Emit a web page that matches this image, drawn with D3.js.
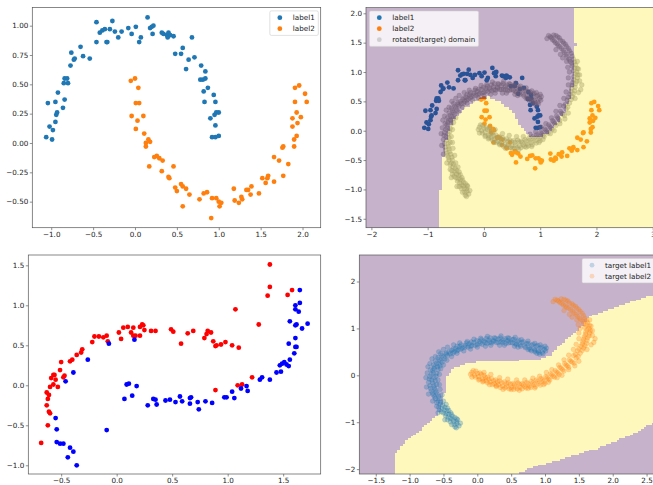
<!DOCTYPE html>
<html>
<head>
<meta charset="utf-8">
<script src="https://cdn.jsdelivr.net/npm/d3@7"></script>
<style>
  html, body { margin: 0; padding: 0; background: #fff; }
  svg { display: block; font-family: "DejaVu Sans", sans-serif; }
</style>
</head>
<body>
<div id="app"></div>
<script>
// source domain (two moons)
const sourceLabel1 = [
  [-1.06,0.05],[-0.99,0.03],[-1.02,0.14],[-0.98,0.11],[-1.04,0.34],[-0.95,0.35],[-0.95,0.18],[-0.94,0.24],
  [-0.93,0.26],[-0.92,0.43],[-0.86,0.30],[-0.84,0.37],[-0.85,0.51],[-0.84,0.55],[-0.81,0.55],[-0.80,0.51],
  [-0.77,0.66],[-0.76,0.77],[-0.73,0.71],[-0.72,0.72],[-0.65,0.82],[-0.62,0.74],[-0.54,0.72],[-0.46,1.03],
  [-0.46,0.86],[-0.42,0.94],[-0.39,0.96],[-0.36,0.97],[-0.34,0.86],[-0.33,0.86],[-0.30,0.97],[-0.27,1.04],
  [-0.24,0.95],[-0.20,0.90],[-0.16,0.95],[-0.08,0.98],[-0.04,0.93],[0.01,0.99],[0.05,0.86],[0.07,0.90],
  [0.15,1.07],[0.18,0.98],[0.20,0.99],[0.22,1.00],[0.21,0.93],[0.32,0.94],[0.34,0.93],[0.38,0.92],
  [0.39,0.90],[0.40,0.94],[0.42,0.92],[0.46,0.91],[0.48,0.76],[0.55,0.76],[0.57,0.81],[0.61,0.63],
  [0.64,0.71],[0.68,0.90],[0.71,0.73],[0.79,0.66],[0.78,0.54],[0.81,0.54],[0.84,0.61],[0.84,0.55],
  [0.82,0.44],[0.83,0.35],[0.87,0.47],[0.94,0.41],[0.96,0.35],[0.95,0.24],[0.97,0.26],[1.00,0.26],
  [0.90,0.21],[0.96,0.15],[0.92,0.05],[0.96,0.05],[1.00,0.06]
];
const sourceLabel2 = [
  [-0.05,0.53],[0.00,0.55],[0.04,0.47],[0.01,0.34],[0.05,0.34],[-0.04,0.23],[0.03,0.19],[0.10,0.23],
  [0.01,0.12],[0.11,0.08],[0.13,0.00],[0.16,0.03],[0.18,0.01],[0.13,-0.03],[0.17,-0.20],[0.23,-0.12],
  [0.26,-0.11],[0.29,-0.13],[0.33,-0.15],[0.32,-0.24],[0.40,-0.29],[0.41,-0.30],[0.46,-0.20],[0.48,-0.38],
  [0.50,-0.41],[0.55,-0.35],[0.57,-0.37],[0.61,-0.39],[0.57,-0.54],[0.65,-0.44],[0.77,-0.48],[0.82,-0.43],
  [0.86,-0.42],[0.92,-0.47],[0.91,-0.64],[0.97,-0.47],[1.00,-0.50],[1.01,-0.54],[1.03,-0.51],[1.18,-0.39],
  [1.19,-0.49],[1.24,-0.51],[1.27,-0.46],[1.28,-0.48],[1.33,-0.40],[1.35,-0.40],[1.39,-0.37],[1.38,-0.44],
  [1.48,-0.43],[1.52,-0.30],[1.56,-0.34],[1.58,-0.30],[1.59,-0.28],[1.66,-0.33],[1.66,-0.12],[1.72,-0.15],
  [1.77,-0.28],[1.76,-0.04],[1.77,-0.03],[1.83,-0.18],[1.88,0.21],[1.88,0.14],[1.90,0.03],[1.90,-0.03],
  [1.93,0.06],[1.91,0.47],[1.96,0.49],[1.91,0.35],[1.93,0.26],[1.94,0.17],[1.98,0.22],[2.03,0.42],[2.05,0.35]
];

// rotated (target) domain
const targetLabel1 = [
  [-0.27,-1.08],[-0.30,-1.03],[-0.33,-1.10],[-0.35,-0.98],[-0.29,-0.95],[-0.38,-1.05],[-0.40,-0.92],[-0.36,-0.88],
  [-0.44,-0.95],[-0.42,-0.83],[-0.47,-0.86],[-0.45,-0.76],[-0.50,-0.80],[-0.52,-0.70],[-0.48,-0.68],[-0.56,-0.74],
  [-0.55,-0.62],[-0.60,-0.66],[-0.58,-0.55],[-0.62,-0.50],[-0.57,-0.45],[-0.65,-0.42],[-0.61,-0.36],[-0.68,-0.33],
  [-0.63,-0.27],[-0.70,-0.22],[-0.66,-0.16],[-0.60,-0.20],[-0.71,-0.08],[-0.64,-0.05],[-0.68,0.02],[-0.60,0.04],
  [-0.66,0.10],[-0.58,0.12],[-0.63,0.18],[-0.55,0.20],[-0.60,0.26],[-0.52,0.28],[-0.56,0.34],[-0.48,0.35],
  [-0.52,0.42],[-0.44,0.42],[-0.46,0.48],[-0.40,0.46],[-0.38,0.53],[-0.34,0.50],[-0.32,0.57],[-0.28,0.54],
  [-0.26,0.61],[-0.22,0.58],[-0.18,0.64],[-0.14,0.60],[-0.12,0.67],[-0.08,0.63],[-0.05,0.70],[0.00,0.65],
  [0.03,0.72],[0.07,0.66],[0.10,0.73],[0.14,0.68],[0.17,0.75],[0.21,0.69],[0.24,0.74],[0.28,0.70],
  [0.31,0.77],[0.35,0.71],[0.38,0.75],[0.42,0.68],[0.45,0.74],[0.49,0.70],[0.52,0.76],[0.56,0.67],
  [0.59,0.72],[0.63,0.65],[0.66,0.70],[0.70,0.62],[0.73,0.67],[0.77,0.58],[0.80,0.64],[0.84,0.56],
  [0.87,0.62],[0.90,0.52],[0.93,0.58],[0.96,0.49],[0.99,0.55],[0.92,0.45],[1.02,0.58],[0.85,0.50],
  [0.75,0.55],[0.55,0.62],[0.33,0.64],[0.12,0.62],[-0.10,0.56],[-0.30,0.47],[-0.45,0.32],[-0.54,0.14],
  [-0.58,-0.10],[-0.55,-0.30],[-0.50,-0.55],[-0.42,-0.75],[-0.33,-0.90],[-0.72,-0.40],[-0.74,0.05],[-0.70,0.25],
  [-0.62,0.40],[-0.50,0.55],[-0.35,0.65],[-0.15,0.72],[0.05,0.79],[0.25,0.80],[0.45,0.80],[0.65,0.76],
  [0.85,0.68],[1.00,0.62],
  [-0.25,-1.02],[-0.31,-1.12],[-0.34,-1.05],[-0.37,-0.94],[-0.31,-0.99],[-0.40,-0.99],[-0.43,-0.89],[-0.39,-0.80],
  [-0.46,-0.82],[-0.49,-0.74],[-0.44,-0.70],[-0.53,-0.78],[-0.51,-0.64],[-0.57,-0.68],[-0.54,-0.57],[-0.60,-0.58],
  [-0.56,-0.50],[-0.63,-0.46],[-0.59,-0.40],[-0.66,-0.38],[-0.62,-0.31],[-0.69,-0.28],[-0.64,-0.22],[-0.72,-0.15],
  [-0.67,-0.10],[-0.62,-0.12],[-0.70,-0.03],[-0.65,0.05],[-0.61,-0.02],[-0.69,0.12],[-0.64,0.14],[-0.59,0.18],
  [-0.65,0.22],[-0.57,0.24],[-0.62,0.30],[-0.54,0.31],[-0.58,0.38],[-0.50,0.39],[-0.54,0.46],[-0.46,0.45],
  [-0.42,0.50],[-0.36,0.47],[-0.36,0.56],[-0.30,0.52],[-0.30,0.62],[-0.24,0.56],[-0.24,0.65],[-0.18,0.60],
  [-0.16,0.69],[-0.10,0.62],[-0.09,0.71],[-0.03,0.64],[-0.01,0.74],[0.04,0.68],[0.06,0.76],[0.11,0.70],
  [0.13,0.78],[0.18,0.70],[0.19,0.80],[0.24,0.72],[0.27,0.79],[0.31,0.70],[0.34,0.80],[0.38,0.70],
  [0.41,0.78],[0.46,0.69],[0.47,0.79],[0.52,0.69],[0.54,0.77],[0.58,0.66],[0.61,0.75],[0.64,0.62],
  [0.68,0.72],[0.71,0.59],[0.75,0.68],[0.78,0.55],[0.82,0.66],[0.85,0.53],[0.89,0.64],[0.91,0.49],
  [0.95,0.60],[0.97,0.46],[1.01,0.52],[0.88,0.47],[0.80,0.52],[0.60,0.60],[0.40,0.64],[0.20,0.64],
  [0.00,0.60],[-0.20,0.52],[-0.38,0.40],[-0.50,0.22],[-0.56,0.02],[-0.56,-0.20],[-0.52,-0.42],[-0.46,-0.62],
  [-0.38,-0.84],[-0.30,-0.93],[-0.75,-0.25],[-0.76,-0.05],[-0.73,0.18],[-0.67,0.35],[-0.57,0.50],[-0.44,0.60],
  [-0.26,0.69],[-0.05,0.77],[0.15,0.83],[0.35,0.84],[0.56,0.81],[0.75,0.73],[0.93,0.65],[-0.48,-0.95],
  [-0.58,-0.80],[-0.66,-0.55]
];
const targetLabel2 = [
  [-0.08,0.06],[-0.04,0.00],[-0.02,0.09],[0.02,-0.03],[0.04,0.05],[0.08,-0.08],[0.10,0.00],[0.13,-0.12],
  [0.15,-0.04],[0.19,-0.14],[0.21,-0.07],[0.25,-0.18],[0.27,-0.10],[0.31,-0.20],[0.33,-0.12],[0.37,-0.23],
  [0.40,-0.14],[0.43,-0.24],[0.46,-0.16],[0.50,-0.26],[0.53,-0.17],[0.56,-0.25],[0.60,-0.16],[0.63,-0.26],
  [0.66,-0.18],[0.70,-0.24],[0.73,-0.15],[0.77,-0.23],[0.80,-0.13],[0.84,-0.20],[0.87,-0.10],[0.91,-0.17],
  [0.94,-0.07],[0.98,-0.13],[1.01,-0.03],[1.05,-0.08],[1.08,0.03],[1.12,-0.02],[1.15,0.10],[1.19,0.05],
  [1.22,0.17],[1.26,0.12],[1.29,0.25],[1.33,0.20],[1.36,0.33],[1.40,0.28],[1.42,0.42],[1.46,0.37],
  [1.48,0.52],[1.52,0.47],[1.53,0.62],[1.57,0.58],[1.56,0.72],[1.61,0.68],[1.58,0.82],[1.63,0.80],
  [1.60,0.92],[1.66,0.90],[1.59,1.02],[1.65,1.00],[1.57,1.10],[1.63,1.12],[1.53,1.18],[1.59,1.22],
  [1.48,1.26],[1.55,1.32],[1.43,1.33],[1.50,1.40],[1.38,1.40],[1.45,1.47],[1.32,1.45],[1.40,1.52],
  [1.27,1.50],[1.34,1.58],[1.22,1.55],[1.28,1.62],[1.18,1.60],[1.70,0.85],[1.68,1.05],[1.62,0.55],
  [1.50,0.30],[1.35,0.12],[1.18,-0.05],[0.98,-0.20],[0.75,-0.28],[0.50,-0.30],[0.28,-0.24],[0.08,-0.14],
  [-0.08,-0.04],[0.20,0.02],[0.45,-0.08],[0.70,-0.10],[0.92,-0.02],[1.10,0.12],[1.28,0.33],[1.42,0.55],
  [1.50,0.78],[1.52,1.00],[1.47,1.18],[1.36,1.30],[1.72,0.70],[1.66,1.18],
  [-0.10,0.02],[-0.06,0.10],[-0.03,-0.04],[0.00,0.04],[0.03,-0.08],[0.06,0.02],[0.09,-0.12],[0.12,-0.05],
  [0.15,-0.16],[0.17,-0.08],[0.22,-0.20],[0.24,-0.12],[0.28,-0.22],[0.30,-0.14],[0.34,-0.26],[0.36,-0.16],
  [0.41,-0.27],[0.43,-0.18],[0.47,-0.29],[0.49,-0.19],[0.54,-0.30],[0.55,-0.20],[0.59,-0.29],[0.62,-0.19],
  [0.66,-0.29],[0.68,-0.20],[0.72,-0.27],[0.75,-0.18],[0.79,-0.26],[0.82,-0.16],[0.86,-0.24],[0.89,-0.13],
  [0.93,-0.21],[0.96,-0.10],[1.00,-0.17],[1.03,-0.05],[1.07,-0.10],[1.10,0.01],[1.14,-0.04],[1.17,0.07],
  [1.21,0.02],[1.24,0.15],[1.28,0.09],[1.31,0.22],[1.35,0.17],[1.38,0.30],[1.43,0.26],[1.45,0.45],
  [1.49,0.40],[1.50,0.57],[1.55,0.53],[1.55,0.67],[1.59,0.63],[1.57,0.77],[1.62,0.74],[1.60,0.87],
  [1.65,0.84],[1.62,0.97],[1.67,0.95],[1.61,1.07],[1.66,1.06],[1.56,1.15],[1.61,1.17],[1.51,1.22],
  [1.57,1.27],[1.46,1.30],[1.52,1.36],[1.41,1.37],[1.47,1.43],[1.35,1.43],[1.42,1.49],[1.30,1.48],
  [1.36,1.54],[1.25,1.53],[1.31,1.60],[1.20,1.58],[1.24,1.63],[1.15,1.62],[1.68,0.65],[1.70,0.95],
  [1.44,0.20],[1.25,0.00],[1.05,-0.15],[0.85,-0.27],[0.62,-0.32],[0.38,-0.30],[0.18,-0.20],[0.02,-0.10],
  [0.10,0.06],[0.33,-0.05],[0.58,-0.10],[0.82,-0.06],[1.02,0.06],[1.20,0.22],[1.35,0.43],[1.46,0.66],
  [1.50,0.90],[1.49,1.08],[1.40,1.24],[1.28,1.38],[1.74,0.78],[1.12,1.57]
];

// mapped features (bottom left)
const mappedRed = [
  [-0.68,-0.72],[-0.63,-0.09],[-0.63,-0.25],[-0.62,-0.17],[-0.61,-0.12],[-0.62,-0.50],[-0.61,-0.33],[-0.60,-0.35],
  [-0.60,-0.02],[-0.59,0.09],[-0.57,0.13],[-0.56,0.13],[-0.57,0.01],[-0.55,0.07],[-0.53,-0.02],[-0.51,0.19],
  [-0.50,0.29],[-0.48,0.10],[-0.47,0.12],[-0.42,0.30],[-0.40,0.32],[-0.36,0.38],[-0.32,0.41],[-0.31,0.45],
  [-0.22,0.54],[-0.20,0.61],[-0.16,0.61],[-0.12,0.60],[-0.09,0.62],[-0.08,0.55],[0.02,0.66],[0.04,0.58],
  [0.06,0.72],[0.10,0.73],[0.13,0.66],[0.15,0.72],[0.15,0.62],[0.17,0.62],[0.21,0.62],[0.21,0.73],
  [0.23,0.76],[0.24,0.75],[0.25,0.69],[0.31,0.68],[0.35,0.68],[0.49,0.70],[0.51,0.67],[0.58,0.52],
  [0.64,0.65],[0.69,0.68],[0.79,0.59],[0.81,0.64],[0.82,0.68],[0.85,0.66],[0.87,0.55],[0.89,0.49],
  [0.90,0.50],[0.94,0.51],[0.98,0.54],[1.04,0.50],[1.07,0.95],[1.10,0.47],[1.09,0.00],[1.13,0.01],
  [0.89,-0.06],[1.22,0.10],[1.28,0.76],[1.36,1.12],[1.38,1.23],[1.38,1.51],[1.54,1.13],[1.58,1.19]
];
const mappedBlue = [
  [-0.07,0.52],[-0.26,0.32],[-0.39,0.16],[-0.46,0.05],[0.16,0.57],[-0.55,-0.41],[-0.54,-0.55],[-0.54,-0.71],
  [-0.51,-0.73],[-0.48,-0.73],[-0.42,-0.78],[-0.44,-0.90],[-0.39,-0.83],[-0.36,-1.00],[-0.09,-0.56],[0.07,-0.17],
  [0.09,0.01],[0.11,0.02],[0.14,-0.13],[0.18,-0.01],[0.28,-0.25],[0.33,-0.17],[0.35,-0.18],[0.36,-0.24],
  [0.44,-0.19],[0.48,-0.18],[0.53,-0.21],[0.57,-0.14],[0.59,-0.20],[0.66,-0.23],[0.66,-0.16],[0.67,-0.15],
  [0.73,-0.21],[0.74,-0.30],[0.80,-0.20],[0.86,-0.22],[0.97,-0.15],[0.99,-0.15],[1.04,-0.08],[1.06,-0.16],
  [1.12,-0.04],[1.17,-0.01],[1.18,-0.07],[1.29,0.07],[1.31,0.10],[1.38,0.07],[1.44,0.16],[1.47,0.25],
  [1.48,0.17],[1.49,0.27],[1.51,0.29],[1.53,0.26],[1.55,0.24],[1.56,0.32],[1.55,0.52],[1.60,0.40],
  [1.61,0.48],[1.62,0.48],[1.61,0.59],[1.61,0.75],[1.62,0.76],[1.56,0.80],[1.61,0.95],[1.61,1.00],
  [1.64,0.92],[1.65,1.03],[1.65,1.19],[1.67,0.71],[1.72,0.77]
];

// decision regions (label2 side), data coordinates
const regionTopRight = [
  [-0.80,-1.75],[-0.79,-1.00],[-0.74,-0.95],[-0.73,-0.45],[-0.70,-0.40],[-0.68,-0.15],[-0.58,0.10],[-0.42,0.32],
  [-0.20,0.47],[0.00,0.56],[0.11,0.58],[0.23,0.52],[0.34,0.44],[0.46,0.35],[0.55,0.27],[0.61,0.15],
  [0.67,0.04],[0.82,-0.08],[1.00,-0.12],[1.20,0.00],[1.40,0.25],[1.55,0.60],[1.62,1.00],[1.63,1.50],
  [1.59,1.56],[1.59,2.20],[3.20,2.20],[3.20,-1.75]
];
const regionBottomRight = [
  [-1.22,-2.20],[-1.22,-1.70],[-1.12,-1.49],[-0.90,-1.24],[-0.70,-0.99],[-0.55,-0.78],[-0.48,-0.35],[-0.45,-0.06],
  [-0.36,0.15],[-0.11,0.26],[0.09,0.29],[0.88,0.33],[1.08,0.43],[1.28,0.72],[1.47,0.93],[1.67,1.25],
  [1.92,1.39],[2.27,1.57],[2.51,1.68],[2.80,1.74],[2.80,-0.95],[2.60,-1.02],[2.27,-1.27],[1.77,-1.56],
  [1.28,-1.77],[0.78,-1.98],[0.45,-2.20]
];

// ticks
const tlXTicks = [-1.0, -0.5, 0.0, 0.5, 1.0, 1.5, 2.0];
const tlYTicks = [-0.50, -0.25, 0.00, 0.25, 0.50, 0.75, 1.00];
const trXTicks = [-2, -1, 0, 1, 2, 3];
const trYTicks = [-1.5, -1.0, -0.5, 0.0, 0.5, 1.0, 1.5, 2.0];
const blXTicks = [-0.5, 0.0, 0.5, 1.0, 1.5];
const blYTicks = [-1.0, -0.5, 0.0, 0.5, 1.0, 1.5];
const brXTicks = [-1.5, -1.0, -0.5, 0.0, 0.5, 1.0, 1.5, 2.0, 2.5];
const brYTicks = [-2, -1, 0, 1, 2];

const C_BLUE = '#1f77b4', C_ORANGE = '#ff7f0e';
const C_LOW = '#440154', C_HIGH = '#fde725';
const R = 2.4;
const width = 653, height = 485;

const svg = d3.select('#app').append('svg')
  .attr('width', width)
  .attr('height', height)
  .style('background', '#fff');

let clipId = 0;

// axes box with scales, ticks and frame
function makePanel(box, xDomain, yDomain, xTicks, yTicks, xFmt, yFmt) {
  const x = d3.scaleLinear().domain(xDomain).range([box.left, box.left + box.width]);
  const y = d3.scaleLinear().domain(yDomain).range([box.top + box.height, box.top]);
  const id = 'clip' + (clipId++);
  svg.append('clipPath').attr('id', id)
    .append('rect')
    .attr('x', box.left).attr('y', box.top)
    .attr('width', box.width).attr('height', box.height);
  const plot = svg.append('g').attr('clip-path', `url(#${id})`);
  const axes = svg.append('g');

  const xAxis = axes.append('g')
    .attr('transform', `translate(0,${box.top + box.height})`)
    .call(d3.axisBottom(x).tickValues(xTicks).tickFormat(d3.format(xFmt)).tickSize(2.5).tickPadding(1.5));
  const yAxis = axes.append('g')
    .attr('transform', `translate(${box.left},0)`)
    .call(d3.axisLeft(y).tickValues(yTicks).tickFormat(d3.format(yFmt)).tickSize(2.5).tickPadding(1.5));
  [xAxis, yAxis].forEach(a => {
    a.select('.domain').remove();
    a.selectAll('line').attr('stroke', '#444').attr('stroke-width', 0.6);
    a.selectAll('text').attr('fill', '#222').style('font-size', '7.2px').style('font-family', '"DejaVu Sans", sans-serif');
  });

  svg.append('rect')
    .attr('x', box.left).attr('y', box.top)
    .attr('width', box.width).attr('height', box.height)
    .attr('fill', 'none')
    .attr('stroke', '#555')
    .attr('stroke-width', 0.7);

  return { box, x, y, plot };
}

// scatter
function scatter(p, data, color, alpha, edge) {
  p.plot.append('g')
    .selectAll('circle')
    .data(data)
    .join('circle')
    .attr('cx', d => p.x(d[0]))
    .attr('cy', d => p.y(d[1]))
    .attr('r', R)
    .attr('fill', color)
    .attr('fill-opacity', alpha)
    .attr('stroke', edge ? color : 'none')
    .attr('stroke-opacity', alpha)
    .attr('stroke-width', 0.5);
}

// mesh-grid style decision region with alpha like contourf
function region(p, polygon, step) {
  const [x0, x1] = p.x.domain();
  const [y0, y1] = p.y.domain();
  const g = p.plot.append('g').attr('opacity', 0.3).attr('shape-rendering', 'crispEdges');
  g.append('rect')
    .attr('x', p.box.left).attr('y', p.box.top)
    .attr('width', p.box.width).attr('height', p.box.height)
    .attr('fill', C_LOW);
  const runs = [];
  for (let yv = y0; yv < y1; yv += step) {
    let start = null;
    for (let xv = x0; ; xv += step) {
      const inside = xv < x1 && d3.polygonContains(polygon, [xv + step / 2, yv + step / 2]);
      if (inside && start === null) start = xv;
      if (!inside && start !== null) { runs.push([start, xv, yv]); start = null; }
      if (xv >= x1) break;
    }
  }
  g.selectAll('rect.run')
    .data(runs)
    .join('rect')
    .attr('class', 'run')
    .attr('x', d => Math.round(p.x(d[0])))
    .attr('width', d => Math.round(p.x(d[1])) - Math.round(p.x(d[0])))
    .attr('y', d => Math.round(p.y(d[2] + step)))
    .attr('height', d => Math.round(p.y(d[2])) - Math.round(p.y(d[2] + step)))
    .attr('fill', C_HIGH);
}

// legend box
function legend(p, items, side) {
  const fs = 7.2, pitch = 11, pad = 2.5, rowH = 8.5;
  const lg = svg.append('g');
  const tmp = lg.append('text').style('font-size', fs + 'px');
  let maxW = 0;
  items.forEach(d => {
    tmp.text(d.label);
    maxW = Math.max(maxW, tmp.node().getComputedTextLength());
  });
  tmp.remove();
  const w = 23 + maxW + 3.5;
  const h = pad * 2 + (items.length - 1) * pitch + rowH;
  const bx = side === 'right' ? p.box.left + p.box.width - 2.4 - w : p.box.left + 3.3;
  const by = p.box.top + 3.4;
  lg.append('rect')
    .attr('x', bx).attr('y', by)
    .attr('width', w).attr('height', h)
    .attr('rx', 1.5)
    .attr('fill', '#fff').attr('fill-opacity', 0.8)
    .attr('stroke', '#ccc').attr('stroke-width', 0.6);
  items.forEach((d, i) => {
    const cy = by + pad + rowH / 2 + i * pitch;
    lg.append('circle')
      .attr('cx', bx + 10).attr('cy', cy).attr('r', R)
      .attr('fill', d.color).attr('fill-opacity', d.alpha);
    lg.append('text')
      .attr('x', bx + 23).attr('y', cy).attr('dy', '0.35em')
      .attr('fill', '#222')
      .style('font-size', fs + 'px')
      .text(d.label);
  });
}

function init() {
  // top left: source moons
  const tl = makePanel({ left: 32.3, top: 7.5, width: 288.4, height: 220.2 },
    [-1.226, 2.217], [-0.722, 1.155], tlXTicks, tlYTicks, '.1f', '.2f');
  scatter(tl, sourceLabel1, C_BLUE, 1);
  scatter(tl, sourceLabel2, C_ORANGE, 1);
  legend(tl, [
    { label: 'label1', color: C_BLUE, alpha: 1 },
    { label: 'label2', color: C_ORANGE, alpha: 1 }
  ], 'right');

  // top right: source + rotated target, boundary laid over the points
  const tr = makePanel({ left: 366, top: 7.5, width: 288.4, height: 220.2 },
    [-2.096, 3.03], [-1.652, 2.099], trXTicks, trYTicks, 'd', '.1f');
  scatter(tr, sourceLabel1, C_BLUE, 1);
  scatter(tr, sourceLabel2, C_ORANGE, 1);
  scatter(tr, targetLabel1.concat(targetLabel2), 'gray', 0.4, true);
  region(tr, regionTopRight, 0.05);
  legend(tr, [
    { label: 'label1', color: C_BLUE, alpha: 1 },
    { label: 'label2', color: C_ORANGE, alpha: 1 },
    { label: 'rotated(target) domain', color: 'gray', alpha: 0.3 }
  ], 'left');

  // bottom left: mapped features
  const bl = makePanel({ left: 28.3, top: 255, width: 292.4, height: 219 },
    [-0.796, 1.838], [-1.109, 1.629], blXTicks, blYTicks, '.1f', '.1f');
  scatter(bl, mappedRed, 'red', 1);
  scatter(bl, mappedBlue, 'blue', 1);

  // bottom right: target points over the adapted boundary
  const br = makePanel({ left: 359.3, top: 255, width: 297.7, height: 219 },
    [-1.743, 2.654], [-2.104, 2.565], brXTicks, brYTicks, '.1f', 'd');
  region(br, regionBottomRight, 0.04);
  scatter(br, targetLabel1, C_BLUE, 0.3, true);
  scatter(br, targetLabel2, C_ORANGE, 0.3, true);
  legend(br, [
    { label: 'target label1', color: C_BLUE, alpha: 0.25 },
    { label: 'target label2', color: C_ORANGE, alpha: 0.25 }
  ], 'right');
}

init();
</script>
</body>
</html>
